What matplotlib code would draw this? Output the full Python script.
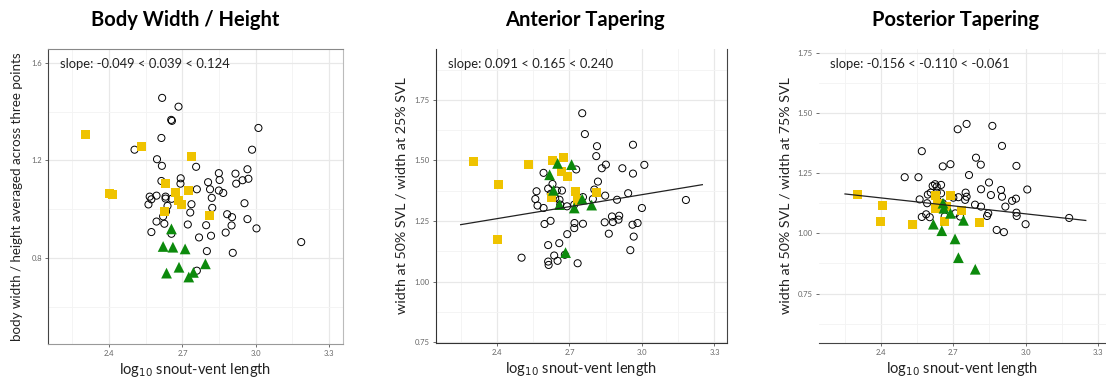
import matplotlib
matplotlib.use("Agg")
import matplotlib.pyplot as plt
import numpy as np

plt.rcParams['font.family'] = ['Lato', 'DejaVu Sans']

# ---- panel 1: body width / height ----
bw_circ_x = [2.617, 2.684, 2.654, 2.657, 2.614, 3.011, 2.985, 2.504, 2.596, 2.616, 2.756, 2.849,
             2.917, 2.966, 2.946, 2.970, 2.693, 2.692, 2.614, 2.805, 2.852, 2.813, 2.849, 2.867,
             2.759, 2.920, 2.566, 2.594, 2.631, 2.631, 2.672, 2.656, 2.639, 2.561, 2.573, 2.820,
             2.737, 2.822, 2.954, 2.633, 2.621, 2.594, 2.626, 2.732, 2.722, 2.797, 2.883, 2.903,
             2.966, 2.901, 3.003, 2.573, 2.655, 2.768, 2.817, 2.877, 2.800, 2.906, 3.186, 2.759]
bw_circ_y = [1.456, 1.420, 1.366, 1.362, 1.292, 1.333, 1.244, 1.244, 1.205, 1.178, 1.174, 1.148,
             1.146, 1.164, 1.119, 1.125, 1.127, 1.105, 1.116, 1.111, 1.120, 1.082, 1.077, 1.067,
             1.082, 1.105, 1.052, 1.056, 1.052, 1.044, 1.065, 1.043, 1.014, 1.020, 1.041, 1.047,
             1.021, 1.006, 1.025, 0.991, 0.971, 0.950, 0.941, 0.987, 0.938, 0.935, 0.980, 0.968,
             0.960, 0.934, 0.922, 0.907, 0.900, 0.885, 0.892, 0.905, 0.829, 0.822, 0.866, 0.749]
bw_sq_x = [2.305, 2.532, 2.403, 2.412, 2.738, 2.631, 2.672, 2.726, 2.684, 2.695, 2.626, 2.809]
bw_sq_y = [1.307, 1.259, 1.066, 1.059, 1.216, 1.105, 1.070, 1.077, 1.036, 1.018, 0.991, 0.973]
bw_tri_x = [2.655, 2.621, 2.661, 2.711, 2.635, 2.686, 2.726, 2.745, 2.794]
bw_tri_y = [0.920, 0.848, 0.845, 0.838, 0.739, 0.763, 0.723, 0.742, 0.777]

# ---- panel 2: anterior tapering ----
at_circ_x = [2.753, 2.764, 2.814, 2.811, 2.851, 2.834, 2.919, 2.728, 2.593, 2.818, 2.564, 2.559,
             2.568, 2.612, 2.630, 2.648, 2.669, 2.623, 2.641, 2.659, 2.662, 2.593, 2.690, 2.720,
             2.756, 2.803, 2.797, 2.848, 2.897, 2.943, 2.597, 2.622, 2.721, 2.756, 2.720, 2.691,
             2.846, 2.876, 2.906, 2.880, 2.903, 2.863, 2.612, 2.658, 2.502, 2.637, 2.612, 2.614,
             2.651, 2.681, 2.734, 2.963, 3.010, 2.963, 3.000, 2.961, 2.982, 2.966, 2.952, 3.182]
at_circ_y = [1.695, 1.609, 1.559, 1.518, 1.483, 1.468, 1.468, 1.463, 1.449, 1.413, 1.373, 1.341,
             1.314, 1.384, 1.403, 1.376, 1.376, 1.363, 1.345, 1.338, 1.318, 1.304, 1.311, 1.318,
             1.349, 1.380, 1.341, 1.355, 1.338, 1.365, 1.238, 1.251, 1.242, 1.239, 1.221, 1.196,
             1.245, 1.269, 1.272, 1.246, 1.256, 1.198, 1.151, 1.159, 1.099, 1.108, 1.083, 1.069,
             1.086, 1.111, 1.076, 1.565, 1.482, 1.446, 1.304, 1.235, 1.242, 1.186, 1.130, 1.337]
at_sq_x = [2.303, 2.406, 2.530, 2.403, 2.630, 2.677, 2.669, 2.691, 2.727, 2.735, 2.626, 2.811]
at_sq_y = [1.497, 1.401, 1.482, 1.175, 1.500, 1.514, 1.454, 1.435, 1.372, 1.336, 1.349, 1.370]
at_tri_x = [2.651, 2.709, 2.618, 2.634, 2.659, 2.720, 2.792, 2.684, 2.753]
at_tri_y = [1.488, 1.483, 1.441, 1.377, 1.318, 1.304, 1.316, 1.120, 1.341]

# ---- panel 3: posterior tapering ----
pt_circ_x = [2.718, 2.755, 2.862, 2.902, 2.569, 2.794, 2.814, 2.656, 2.688, 2.962, 2.765, 2.498,
             2.555, 2.848, 2.815, 2.898, 2.856, 2.751, 2.755, 2.700, 2.560, 2.594, 2.614, 2.631,
             2.624, 2.649, 2.606, 2.631, 2.649, 2.591, 2.634, 2.656, 2.721, 2.749, 2.790, 2.815,
             2.902, 2.916, 2.944, 2.960, 2.962, 2.963, 2.845, 2.840, 2.569, 2.587, 2.602, 2.664,
             2.708, 2.728, 2.880, 2.910, 3.007, 3.000, 3.181, 2.645]
pt_circ_y = [1.432, 1.454, 1.446, 1.363, 1.341, 1.314, 1.285, 1.278, 1.287, 1.280, 1.242, 1.233,
             1.233, 1.211, 1.183, 1.180, 1.159, 1.169, 1.152, 1.148, 1.141, 1.161, 1.197, 1.194,
             1.204, 1.201, 1.169, 1.169, 1.166, 1.125, 1.136, 1.125, 1.150, 1.139, 1.119, 1.111,
             1.152, 1.111, 1.135, 1.144, 1.086, 1.072, 1.083, 1.072, 1.068, 1.079, 1.067, 1.070,
             1.083, 1.070, 1.014, 1.005, 1.182, 1.038, 1.064, 1.111]
pt_sq_x = [2.302, 2.404, 2.396, 2.529, 2.624, 2.690, 2.627, 2.672, 2.664, 2.733, 2.807, 2.634]
pt_sq_y = [1.162, 1.115, 1.049, 1.035, 1.157, 1.157, 1.104, 1.110, 1.049, 1.094, 1.046, 1.125]
pt_tri_x = [2.657, 2.688, 2.742, 2.617, 2.652, 2.707, 2.721, 2.791, 2.661]
pt_tri_y = [1.125, 1.083, 1.054, 1.038, 1.011, 0.977, 0.899, 0.851, 1.104]

titles = ["Body Width / Height", "Anterior Tapering", "Posterior Tapering"]
ylabels = ["body width / height averaged across three points",
           "width at 50% SVL / width at 25% SVL",
           "width at 50% SVL / width at 75% SVL"]
slope_texts = ["slope: -0.049 < 0.039 < 0.124",
               "slope: 0.091 < 0.165 < 0.240",
               "slope: -0.156 < -0.110 < -0.061"]
# fitted lines (None = not significant)
fit_slope = [None, 0.165, -0.110]
fit_icept = [None, 0.864, 1.411]
fit_range = [2.25, 3.25]

yellow = '#efc300'
green = '#0c8a0c'

fig = plt.figure(figsize=(11.06, 3.79), dpi=100)
W, H = 1106, 379
boxes = [(48, 49, 343, 344), (436, 49, 727, 343), (819, 49, 1106, 343)]
ylims = [(0.449, 1.656), (0.747, 1.96), (0.545, 1.765)]
xlims = [(2.15, 3.357), (2.148, 3.352), (2.142, 3.334)]
yticks = [[0.8, 1.2, 1.6], [0.75, 1.0, 1.25, 1.5, 1.75], [0.75, 1.0, 1.25, 1.5, 1.75]]
yminor = [[0.6, 1.0, 1.4], [0.875, 1.125, 1.375, 1.625, 1.875], [0.625, 0.875, 1.125, 1.375, 1.625]]
ylab_fmt = ["{:.1f}", "{:.2f}", "{:.2f}"]
title_x = [185, 585, 955]
ylabel_x = [17, 401, 786]
ylabel_size = [9.6, 10.3, 10.3]

data = [(bw_circ_x, bw_circ_y, bw_sq_x, bw_sq_y, bw_tri_x, bw_tri_y),
        (at_circ_x, at_circ_y, at_sq_x, at_sq_y, at_tri_x, at_tri_y),
        (pt_circ_x, pt_circ_y, pt_sq_x, pt_sq_y, pt_tri_x, pt_tri_y)]

for i in range(3):
    l, t, r, b = boxes[i]
    ax = fig.add_axes([l / W, 1 - b / H, (r - l) / W, (b - t) / H])
    ax.set_xlim(*xlims[i])
    ax.set_ylim(*ylims[i])
    ax.set_facecolor('white')

    # grid
    for gx in [2.4, 2.7, 3.0, 3.3]:
        ax.axvline(gx, color='#e8e8e8', lw=0.9, zorder=0)
    for gx in [2.25, 2.55, 2.85, 3.15]:
        ax.axvline(gx, color='#f3f3f3', lw=0.6, zorder=0)
    for gy in yticks[i]:
        ax.axhline(gy, color='#e8e8e8', lw=0.9, zorder=0)
    for gy in yminor[i]:
        ax.axhline(gy, color='#f3f3f3', lw=0.6, zorder=0)

    cx, cy, sx, sy, tx, ty = data[i]
    ax.scatter(cx, cy, s=26, facecolors='none', edgecolors='black', linewidths=0.7, zorder=3)
    ax.scatter(sx, sy, s=42, marker='s', color=yellow, edgecolors='none', zorder=4)
    ax.scatter(tx, ty, s=60, marker='^', color=green, edgecolors='none', zorder=5)

    if fit_slope[i] is not None:
        fx = np.array(fit_range)
        ax.plot(fx, fit_icept[i] + fit_slope[i] * fx, color='#222222', lw=0.9, zorder=6)

    ax.set_xticks([2.4, 2.7, 3.0, 3.3])
    ax.set_xticklabels(["2.4", "2.7", "3.0", "3.3"])
    ax.set_yticks(yticks[i])
    ax.set_yticklabels([ylab_fmt[i].format(v) for v in yticks[i]])
    ax.tick_params(labelsize=5.5, labelcolor='#666666', color='#555555', length=2.5, width=0.6, pad=2)

    ax.text(0.04, 0.95, slope_texts[i], transform=ax.transAxes, fontsize=9.4,
            ha='left', va='center', color='#222222')

    ax.set_xlabel("log$_{10}$ snout-vent length", fontsize=10.5, labelpad=3, color='#222222')
    fig.text(ylabel_x[i] / W, 1 - ((t + b) / 2) / H, ylabels[i], rotation=90,
             ha='center', va='center', fontsize=ylabel_size[i], color='#222222')
    fig.text(title_x[i] / W, 1 - 20 / H, titles[i], ha='center', va='center',
             fontsize=14.5, fontweight='bold')

    for s in ax.spines.values():
        s.set_linewidth(0.8)
    if i == 0:
        ax.spines['left'].set_color('#444444')
        ax.spines['bottom'].set_color('#999999')
        ax.spines['top'].set_color('#888888')
        ax.spines['right'].set_color('#bbbbbb')
    elif i == 1:
        ax.spines['left'].set_color('#333333')
        ax.spines['bottom'].set_color('#333333')
        ax.spines['right'].set_color('#444444')
        ax.spines['top'].set_visible(False)
    else:
        ax.spines['left'].set_visible(False)
        ax.spines['right'].set_visible(False)
        ax.spines['top'].set_visible(False)
        ax.spines['bottom'].set_color('#444444')

fig.savefig("out.png", dpi=100, facecolor='white')
